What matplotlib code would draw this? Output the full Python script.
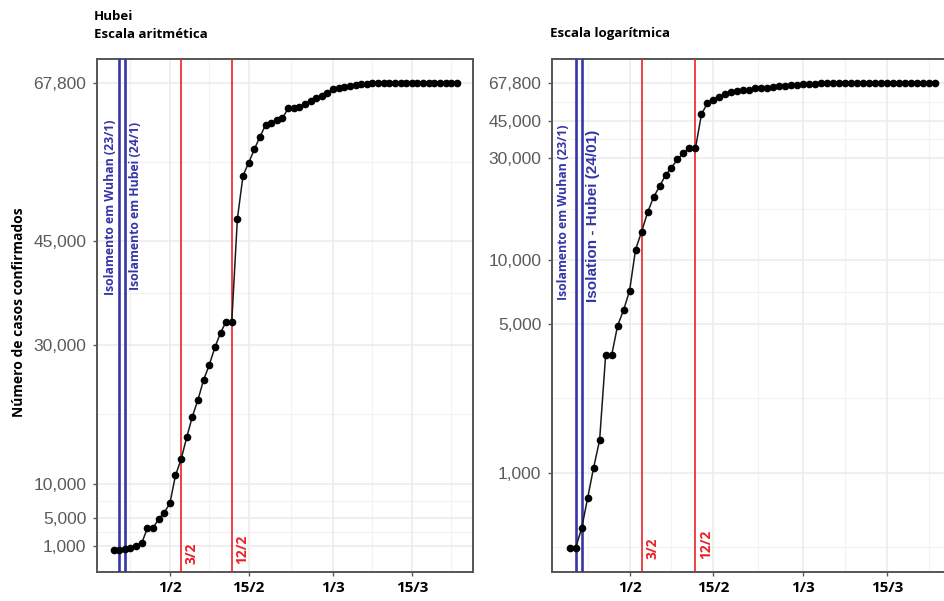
import matplotlib
matplotlib.use('Agg')
import matplotlib.pyplot as plt
import matplotlib.dates as mdates
import matplotlib.transforms as mtransforms
import matplotlib.ticker as mticker
import numpy as np
import pandas as pd

# ---------------- data ----------------
dates = pd.date_range('2020-01-22', '2020-03-23', freq='D')
cases = [444, 444, 549, 761, 1058, 1423, 3554, 3554, 4903, 5806,
         7153, 11177, 13522, 16678, 19665, 22112, 24953, 27100, 29631, 31728,
         33366, 33366, 48206, 54406, 56249, 58182, 59989, 61682, 62031, 62442,
         62662, 64084, 64084, 64287, 64786, 65187, 65596, 65914, 66337,
         66907, 67103, 67217, 67332, 67466, 67592, 67666, 67707, 67743, 67760,
         67773, 67781, 67786, 67790, 67794, 67798, 67799, 67800, 67800, 67800,
         67800, 67800, 67800]

ytick_values = [1000, 5000, 10000, 30000, 45000, 67800]
ytick_labels = ['1,000', '5,000', '10,000', '30,000', '45,000', '67,800']
xtick_dates = pd.to_datetime(['2020-02-01', '2020-02-15', '2020-03-01', '2020-03-15'])
xtick_labels = ['1/2', '15/2', '1/3', '15/3']

lockdown_dates = pd.to_datetime(['2020-01-23', '2020-01-24'])
left_lockdown_labels = ['Isolamento em Wuhan (23/1)', 'Isolamento em Hubei (24/1)']
right_lockdown_labels = ['Isolamento em Wuhan (23/1)', 'Isolation - Hubei (24/01)']
event_dates = pd.to_datetime(['2020-02-03', '2020-02-12'])
event_labels = ['3/2', '12/2']

titles_left = ['Hubei', 'Escala aritmética']
title_right = 'Escala logarítmica'
ylabel = 'Número de casos confirmados'

# ---------------- style ----------------
plt.rcParams['font.family'] = ['Open Sans', 'DejaVu Sans']
BLUE = '#3535a8'
RED = '#ec2027'
GRID = '#ebebeb'
GRID_MINOR = '#f3f3f3'
TICKCOL = '#5e5a58'

W, H = 945, 601
fig = plt.figure(figsize=(W / 100, H / 100), dpi=100)

xlim = (pd.Timestamp('2020-01-19 00:00'), pd.Timestamp('2020-03-25 22:00'))

def px(x0, y0, x1, y1):
    return [x0 / W, 1 - y1 / H, (x1 - x0) / W, (y1 - y0) / H]

axL = fig.add_axes(px(96.7, 58.7, 473.3, 572.3))
axR = fig.add_axes(px(551.7, 58.7, 952.5, 572.3))


def style_axis(ax, log):
    ax.plot(dates, cases, color='#1a1a1a', lw=1.1, marker='o', ms=4.5,
            markerfacecolor='black', markeredgecolor='black', zorder=5)
    ax.set_xlim(xlim)
    if log:
        ax.set_yscale('log')
        ax.set_ylim(341, 87960)
    else:
        ax.set_ylim(-2790, 71260)
    ax.set_yticks(ytick_values)
    ax.set_yticklabels(ytick_labels)
    ax.yaxis.set_minor_locator(mticker.NullLocator())
    # minor gridline positions: midpoints between major ticks
    tv = np.array(ytick_values, dtype=float)
    if log:
        lt = np.log10(tv)
        mids = list((lt[:-1] + lt[1:]) / 2)
        mids = [lt[0] - (lt[1] - lt[0]) / 2] + mids
        ymin_lines = [10 ** m for m in mids]
    else:
        ymin_lines = list((tv[:-1] + tv[1:]) / 2)
    for yv in ymin_lines:
        ax.axhline(yv, color=GRID_MINOR, lw=0.9, zorder=0)
    ax.set_xticks(xtick_dates)
    ax.set_xticklabels(xtick_labels)
    xt = mdates.date2num(xtick_dates)
    xmids = list((xt[:-1] + xt[1:]) / 2)
    step = xt[1] - xt[0]
    xmids = [xt[0] - step / 2] + xmids + [xt[-1] + step / 2]
    for xv in xmids:
        ax.axvline(xv, color=GRID_MINOR, lw=0.9, zorder=0)
    ax.grid(True, which='major', color=GRID, lw=1.1, zorder=0)
    ax.set_axisbelow(True)
    ax.tick_params(axis='y', labelsize=12.5, labelcolor=TICKCOL, color=TICKCOL,
                   length=3, width=1, pad=4.5)
    ax.tick_params(axis='x', labelsize=11, labelcolor='black', color=TICKCOL,
                   length=3, width=1, pad=3.5)
    for lab in ax.get_yticklabels():
        lab.set_family(['Liberation Sans', 'DejaVu Sans'])
    for lab in ax.get_xticklabels():
        lab.set_fontweight('bold')
    for s in ax.spines.values():
        s.set_color('#555555')
        s.set_linewidth(1.4)
    for d in lockdown_dates:
        ax.axvline(d, color=BLUE, lw=1.9, zorder=3)
    for d in event_dates:
        ax.axvline(d, color=RED, lw=1.2, zorder=3)


style_axis(axL, False)
style_axis(axR, True)


def blended(ax, dx_px):
    tr = mtransforms.blended_transform_factory(ax.transData, ax.transAxes)
    return mtransforms.offset_copy(tr, fig=fig, x=dx_px * 0.72, y=0, units='points')

# red event labels
for ax, ybot in ((axL, 0.017), (axR, 0.026)):
    for d, lab in zip(event_dates, event_labels):
        ax.text(d, ybot, lab, transform=blended(ax, 10.5), rotation=90,
                ha='center', va='bottom', color=RED, fontsize=10,
                fontweight='bold', zorder=6)

# blue lockdown labels - left panel
axL.text(lockdown_dates[0], 0.710, left_lockdown_labels[0], transform=blended(axL, -9),
         rotation=90, ha='center', va='center', color=BLUE, fontsize=8.8,
         fontweight='bold', zorder=6)
axL.text(lockdown_dates[1], 0.713, left_lockdown_labels[1], transform=blended(axL, 11),
         rotation=90, ha='center', va='center', color=BLUE, fontsize=8.8,
         fontweight='bold', zorder=6)
# right panel
axR.text(lockdown_dates[0], 0.702, right_lockdown_labels[0], transform=blended(axR, -12),
         rotation=90, ha='center', va='center', color=BLUE, fontsize=8.8,
         fontweight='bold', zorder=6)
axR.text(lockdown_dates[1], 0.694, right_lockdown_labels[1], transform=blended(axR, 11.5),
         rotation=90, ha='center', va='center', color=BLUE, fontsize=11,
         fontweight='bold', family=['Liberation Sans', 'DejaVu Sans'], zorder=6)

# titles
fig.text(94 / W, 1 - 17 / H, titles_left[0], ha='left', va='center',
         fontsize=9.5, fontweight='bold')
fig.text(94 / W, 1 - 34 / H, titles_left[1], ha='left', va='center',
         fontsize=9.5, fontweight='bold')
fig.text(550 / W, 1 - 34 / H, title_right, ha='left', va='center',
         fontsize=9.5, fontweight='bold')
fig.text(19 / W, 1 - 312 / H, ylabel, rotation=90, ha='center', va='center',
         fontsize=10, fontweight='bold')

fig.savefig('out.png', dpi=100)
